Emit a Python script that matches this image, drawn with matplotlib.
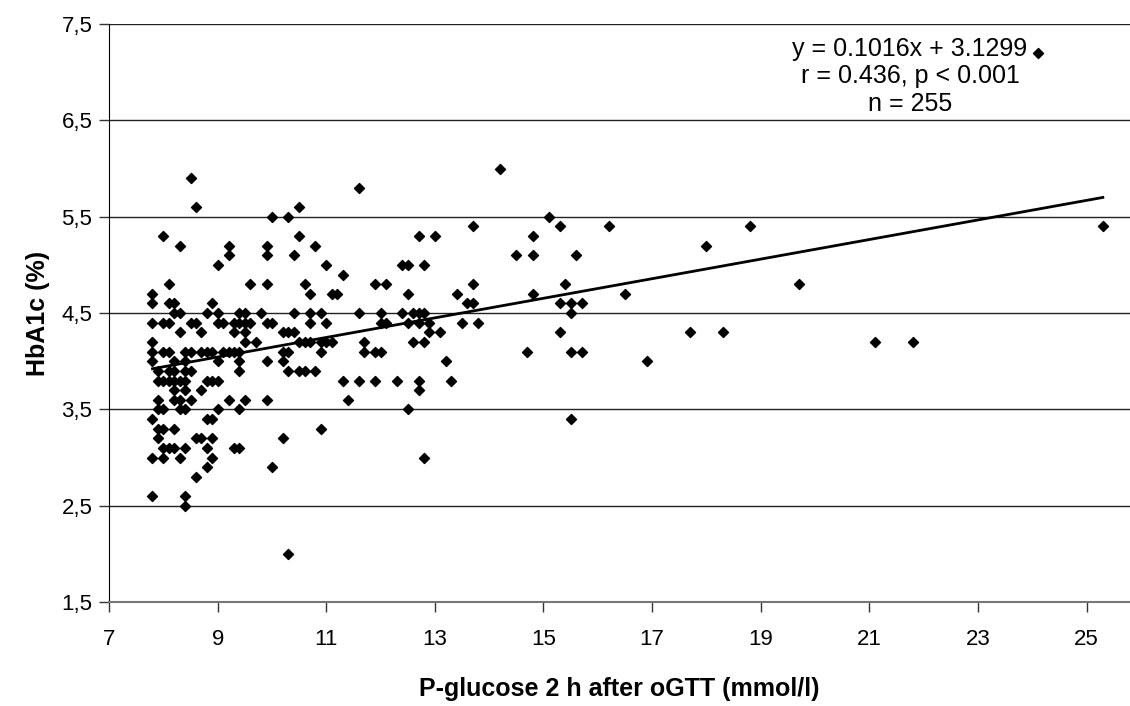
import matplotlib.pyplot as plt
import numpy as np

plt.rcParams['font.family'] = ['Liberation Sans', 'DejaVu Sans']

# P-glucose 2 h after oGTT (mmol/l) and HbA1c (%)
glucose = [
    8.5, 8.6, 8.0, 8.3, 9.2, 9.2, 9.9, 9.9, 9.0, 8.1, 9.6, 9.9,
    7.8, 7.8, 8.1, 8.2, 8.9, 8.2, 8.3, 8.8, 9.0, 9.4, 9.5, 9.8,
    7.8, 8.0, 8.1, 8.5, 8.6, 9.0, 9.1, 9.3, 9.4, 9.5, 9.6, 9.9,
    8.3, 8.7, 9.3, 9.5, 7.8, 9.5, 9.7,
    7.8, 8.0, 8.1, 8.4, 8.5, 8.7, 8.8, 8.9, 9.1, 9.2, 9.3, 9.4,
    7.8, 8.2, 8.4, 9.0, 9.4, 9.9,
    7.9, 8.1, 8.2, 8.4, 8.5, 9.4,
    7.9, 8.0, 8.1, 8.2, 8.3, 8.4, 8.8, 8.9, 9.0,
    8.2, 8.4, 8.7,
    7.9, 8.2, 8.3, 8.5, 9.2, 9.5, 9.9,
    7.9, 8.0, 8.3, 8.4, 9.0, 9.4,
    7.8, 8.8, 8.9,
    7.9, 8.0, 8.2,
    7.9, 8.6, 8.7, 8.9,
    8.0, 8.1, 8.2, 8.4, 8.8, 9.3, 9.4,
    7.8, 8.0, 8.3, 8.9,
    8.8, 8.6, 7.8, 8.4, 8.4,
    11.6, 10.5, 10.0, 10.3, 10.5, 10.8, 10.4, 11.0, 11.3, 12.4, 12.5,
    10.6, 11.9, 12.1, 10.7, 11.1, 11.2, 12.5,
    10.4, 10.7, 10.9, 11.6, 12.0, 12.4, 12.6,
    10.0, 10.7, 11.0, 12.0, 12.1, 12.5,
    10.2, 10.3, 10.4,
    10.5, 10.6, 10.7, 10.9, 11.0, 11.1, 11.7, 12.6,
    10.2, 10.3, 10.9, 11.7, 11.9, 12.0,
    10.2, 10.3, 10.5, 10.6, 10.8,
    11.3, 11.6, 11.9, 12.3,
    11.4, 12.5, 10.9, 10.2, 10.0, 10.3,
    14.2, 15.1, 13.7, 15.3, 16.2, 12.7, 13.0, 14.8,
    14.5, 14.8, 15.6, 12.8, 13.7, 15.4, 13.4, 14.8,
    13.6, 13.7, 15.3, 15.5, 15.7, 12.7, 12.8, 15.5,
    12.7, 12.9, 13.5, 13.8, 12.9, 13.1, 15.3, 12.8,
    13.2, 14.7, 15.5, 15.7, 12.7, 13.3, 12.7, 15.5, 12.8,
    16.5, 16.9, 17.7, 18.0, 18.3, 18.8, 19.7, 21.1, 21.8, 25.3, 24.1,
]
hba1c = [
    5.9, 5.6, 5.3, 5.2, 5.2, 5.1, 5.2, 5.1, 5.0, 4.8, 4.8, 4.8,
    4.7, 4.6, 4.6, 4.6, 4.6, 4.5, 4.5, 4.5, 4.5, 4.5, 4.5, 4.5,
    4.4, 4.4, 4.4, 4.4, 4.4, 4.4, 4.4, 4.4, 4.4, 4.4, 4.4, 4.4,
    4.3, 4.3, 4.3, 4.3, 4.2, 4.2, 4.2,
    4.1, 4.1, 4.1, 4.1, 4.1, 4.1, 4.1, 4.1, 4.1, 4.1, 4.1, 4.1,
    4.0, 4.0, 4.0, 4.0, 4.0, 4.0,
    3.9, 3.9, 3.9, 3.9, 3.9, 3.9,
    3.8, 3.8, 3.8, 3.8, 3.8, 3.8, 3.8, 3.8, 3.8,
    3.7, 3.7, 3.7,
    3.6, 3.6, 3.6, 3.6, 3.6, 3.6, 3.6,
    3.5, 3.5, 3.5, 3.5, 3.5, 3.5,
    3.4, 3.4, 3.4,
    3.3, 3.3, 3.3,
    3.2, 3.2, 3.2, 3.2,
    3.1, 3.1, 3.1, 3.1, 3.1, 3.1, 3.1,
    3.0, 3.0, 3.0, 3.0,
    2.9, 2.8, 2.6, 2.6, 2.5,
    5.8, 5.6, 5.5, 5.5, 5.3, 5.2, 5.1, 5.0, 4.9, 5.0, 5.0,
    4.8, 4.8, 4.8, 4.7, 4.7, 4.7, 4.7,
    4.5, 4.5, 4.5, 4.5, 4.5, 4.5, 4.5,
    4.4, 4.4, 4.4, 4.4, 4.4, 4.4,
    4.3, 4.3, 4.3,
    4.2, 4.2, 4.2, 4.2, 4.2, 4.2, 4.2, 4.2,
    4.1, 4.1, 4.1, 4.1, 4.1, 4.1,
    4.0, 3.9, 3.9, 3.9, 3.9,
    3.8, 3.8, 3.8, 3.8,
    3.6, 3.5, 3.3, 3.2, 2.9, 2.0,
    6.0, 5.5, 5.4, 5.4, 5.4, 5.3, 5.3, 5.3,
    5.1, 5.1, 5.1, 5.0, 4.8, 4.8, 4.7, 4.7,
    4.6, 4.6, 4.6, 4.6, 4.6, 4.5, 4.5, 4.5,
    4.4, 4.4, 4.4, 4.4, 4.3, 4.3, 4.3, 4.2,
    4.0, 4.1, 4.1, 4.1, 3.8, 3.8, 3.7, 3.4, 3.0,
    4.7, 4.0, 4.3, 5.2, 4.3, 5.4, 4.8, 4.2, 4.2, 5.4, 7.2,
]

slope, intercept = 0.1016, 3.1299
stats_text = 'y = 0.1016x + 3.1299\nr = 0.436, p < 0.001\nn = 255'

fig = plt.figure(figsize=(11.3, 7.06), dpi=100)
ax = fig.add_axes([0.0965, 0.147, 0.9035, 0.819])

ax.scatter(glucose, hba1c, marker='D', s=26, color='black', zorder=3)

# trend line over the data range
xl = np.array([min(glucose), max(glucose)])
ax.plot(xl, slope * xl + intercept, color='black', lw=2, zorder=4)

ax.set_xlim(7, 25.8)
ax.set_ylim(1.5, 7.5)
ax.set_xticks(np.arange(7, 26, 2))
ax.set_yticks(np.arange(1.5, 7.6, 1))
ax.set_yticklabels([f'{v:.1f}'.replace('.', ',') for v in np.arange(1.5, 7.6, 1)])
ax.grid(axis='y', color='#222222', lw=1)
ax.set_axisbelow(True)
ax.tick_params(direction='out', length=7, width=1, labelsize=16, color='#333333')
ax.tick_params(axis='x', pad=12)
ax.tick_params(axis='y', pad=5)

for s in ['top', 'right']:
    ax.spines[s].set_visible(False)
ax.spines['left'].set_color('black')
ax.spines['bottom'].set_color('#777777')
ax.spines['bottom'].set_linewidth(1.5)

ax.set_xlabel('P-glucose 2 h after oGTT (mmol/l)', fontsize=18, fontweight='bold', labelpad=20)
ax.set_ylabel('HbA1c (%)', fontsize=18, fontweight='bold', labelpad=8)

ax.text(21.75, 7.37, stats_text, ha='center', va='top', fontsize=18, linespacing=1.2)

fig.savefig('out.png', dpi=100)
